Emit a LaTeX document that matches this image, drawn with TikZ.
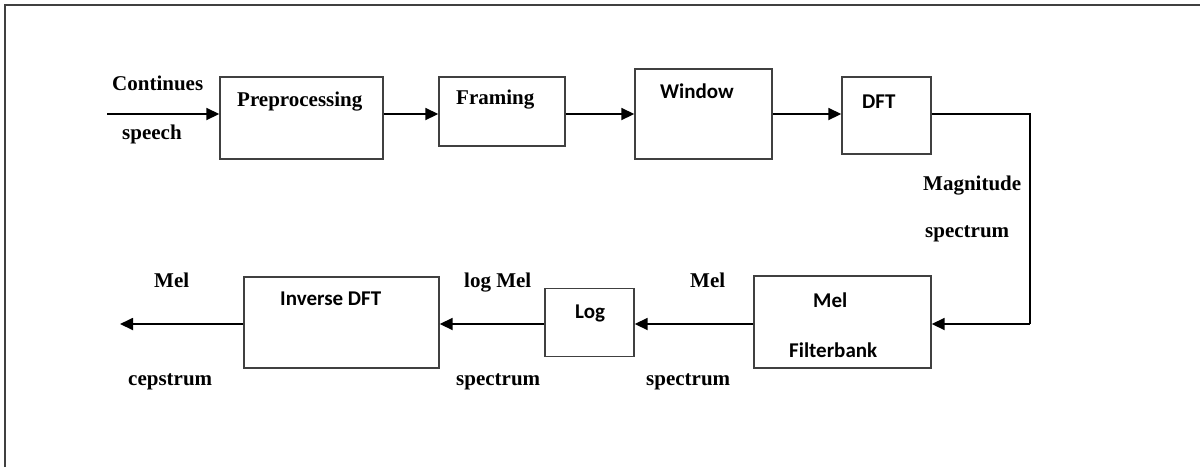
\documentclass[tikz,border=0pt]{standalone}
\usepackage{fontspec}
\setmainfont{Liberation Serif}
\newfontfamily\boxfont{Carlito}
\usetikzlibrary{arrows.meta}
\definecolor{boxline}{HTML}{404040}
\begin{document}
\begin{tikzpicture}[x=1pt,y=-1pt,
  box/.style={draw=boxline,line width=1.4pt,inner sep=0pt,fill=white},
  arr/.style={draw=black,line width=1.8pt,-{Triangle[length=13pt,width=12pt]}},
  conn/.style={draw=black,line width=1.4pt},
  lbl/.style={inner sep=0pt,anchor=base west,font=\fontsize{21}{25}\selectfont\bfseries},
  blbl/.style={inner sep=0pt,anchor=base west,font=\fontsize{21}{25}\selectfont\boxfont\bfseries}]
\useasboundingbox (0,0) rectangle (1200,467);
\fill[white] (0,0) rectangle (1200,467);
\draw[boxline,line width=1.8pt] (5,467) -- (5,5) -- (1200,5);
% boxes
\node[box,minimum width=163pt,minimum height=82pt] (pre) at (301.5,118) {};
\node[box,minimum width=126pt,minimum height=69pt] (fram) at (502,111.5) {};
\node[box,minimum width=137pt,minimum height=90pt] (win) at (703.5,114) {};
\node[box,minimum width=89pt,minimum height=77pt] (dft) at (886.5,115.5) {};
\node[box,minimum width=177pt,minimum height=92pt] (mel) at (842.5,322) {};
\node[box,minimum width=89pt,minimum height=68pt] (log) at (589.5,322.5) {};
\node[box,minimum width=195pt,minimum height=91pt] (inv) at (341.5,322.5) {};
% box texts
\node[lbl] (tpre) at (237,106) {Preprocessing};
\node[lbl] (tfram) at (456,104) {Framing};
\node[blbl] (twin) at (660,98) {Window};
\node[blbl] (tdft) at (862,108) {DFT};
\node[blbl] (tmel1) at (813,307) {Mel};
\node[blbl] (tmel2) at (789,357) {Filterbank};
\node[blbl] (tlog) at (575,318) {Log};
\node[blbl] (tinv) at (280,305) {Inverse DFT};
% outside labels
\node[lbl] (l1) at (112,90) {Continues};
\node[lbl] (l2) at (122,139) {speech};
\node[lbl] (l3) at (923,190) {Magnitude};
\node[lbl] (l4) at (925,237) {spectrum};
\node[lbl] (l5) at (690,287) {Mel};
\node[lbl] (l6) at (646,385) {spectrum};
\node[lbl] (l7) at (464,287) {log Mel};
\node[lbl] (l8) at (456,385) {spectrum};
\node[lbl] (l9) at (154,287) {Mel};
\node[lbl] (l10) at (128,385) {cepstrum};
% connectors
\coordinate (ytop) at (0,114);
\coordinate (ybot) at (0,324);
\coordinate (in) at (107,114);
\coordinate (c1) at (1030,114);
\coordinate (c2) at (1030,324);
\coordinate (out) at (120,324);
\draw[arr] (in) -- (in -| pre.west);
\draw[arr] (pre.east |- ytop) -- (fram.west |- ytop);
\draw[arr] (fram.east |- ytop) -- (win.west |- ytop);
\draw[arr] (win.east |- ytop) -- (dft.west |- ytop);
\draw[conn] (dft.east |- ytop) -- (c1) -- (c2);
\draw[arr] (c2) -- (mel.east |- ybot);
\draw[arr] (mel.west |- ybot) -- (log.east |- ybot);
\draw[arr] (log.west |- ybot) -- (inv.east |- ybot);
\draw[arr] (inv.west |- ybot) -- (out);
\end{tikzpicture}
\end{document}
